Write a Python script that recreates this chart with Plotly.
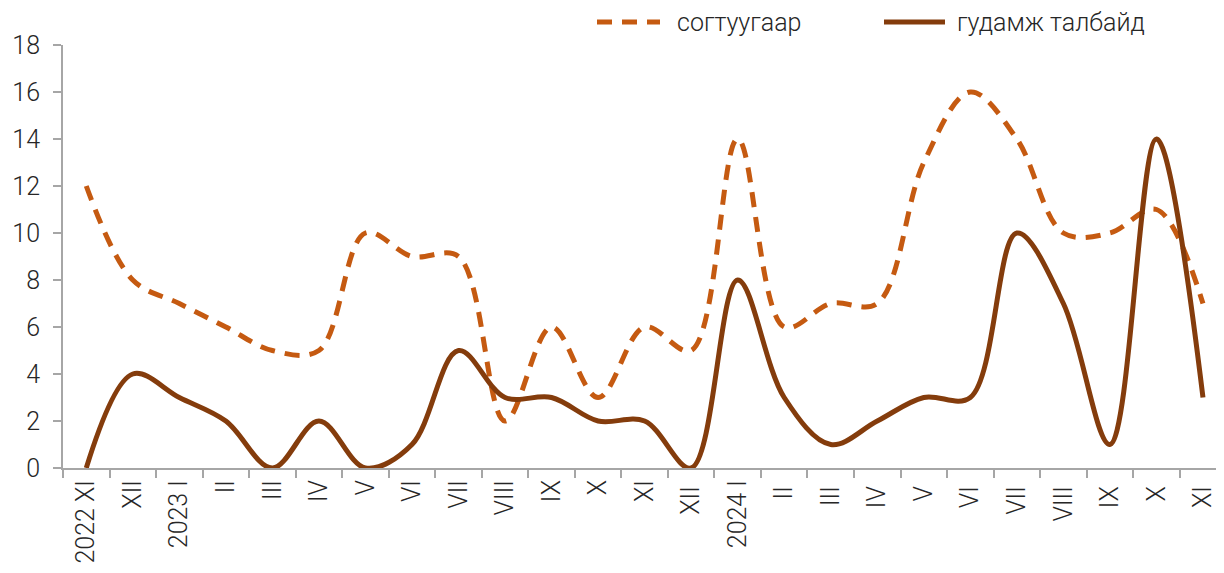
import plotly.graph_objects as go

categories = ["2022 XI", "XII", "2023 I", "II", "III", "IV", "V", "VI", "VII", "VIII", "IX", "X", "XI",
              "XII ", "2024 I", "II ", "III ", "IV ", "V ", "VI ", "VII ", "VIII ", "IX ", "X ", "XI "]
sogtuugaar = [12, 8, 7, 6, 5, 5, 10, 9, 9, 2, 6, 3, 6, 5, 14, 6, 7, 7, 13, 16, 14, 10, 10, 11, 7]
gudamzh = [0, 4, 3, 2, 0, 2, 0, 1, 5, 3, 3, 2, 2, 0, 8, 3, 1, 2, 3, 3, 10, 7, 1, 14, 3]
y_ticks = [0, 2, 4, 6, 8, 10, 12, 14, 16, 18]
series_names = ["согтуугаар", "гудамж талбайд"]
series_colors = ["#C55A11", "#843C0C"]
DASH = "15px,10px"

FONT = "Roboto"
TXT = "#262626"
AX = "#A6A6A6"
FS = 25
FSX = 25

# page has 8px body margin; plot area spans 63..1216 px (screen), 45..468 px
L, R, T, B = 63, 1216, 45, 468
W, H = 1208, 557


def px(x):
    return (x - L) / (R - L)


def py(y):
    return (B - y) / (B - T)


fig = go.Figure()
fig.add_trace(go.Scatter(
    x=categories, y=sogtuugaar, name=series_names[0], mode="lines",
    line=dict(color=series_colors[0], width=5, dash=DASH, shape="spline", smoothing=1.0),
))
fig.add_trace(go.Scatter(
    x=categories, y=gudamzh, name=series_names[1], mode="lines",
    line=dict(color=series_colors[1], width=5, shape="spline", smoothing=1.0),
))

# custom legend (long line samples as in the reference)
legend_items = [(597, 660, 675), (884, 945, 955)]
shapes, annotations = [], []
for i, (x0, x1, xt) in enumerate(legend_items):
    shapes.append(dict(
        type="line", xref="paper", yref="paper",
        x0=px(x0), x1=px(x1), y0=py(22), y1=py(22),
        line=dict(color=series_colors[i], width=5, dash=DASH if i == 0 else "solid"),
    ))
    annotations.append(dict(
        xref="paper", yref="paper", x=px(xt), y=py(22), xanchor="left", yanchor="middle",
        text=series_names[i], showarrow=False,
        font=dict(family=FONT, size=FS, color=TXT, weight=300),
    ))

fig.update_layout(
    width=W, height=H,
    margin=dict(l=L - 8, r=W + 8 - R, t=T - 8, b=H + 8 - B),
    paper_bgcolor="white", plot_bgcolor="white",
    font=dict(family=FONT, size=FS, color=TXT, weight=300),
    showlegend=False,
    shapes=shapes, annotations=annotations,
)
fig.update_xaxes(
    type="category", categoryorder="array", categoryarray=categories,
    range=[-0.5, 24.28],
    showgrid=False, showline=True, linecolor=AX, linewidth=2,
    ticks="outside", tickson="boundaries", ticklen=8, tickcolor=AX, tickwidth=2,
    tickangle=-90, tickfont=dict(family=FONT, size=FSX, color=TXT, weight=300),
    zeroline=False, automargin=False,
)
fig.update_yaxes(
    range=[0, 18], tickvals=y_ticks,
    showgrid=False, showline=True, linecolor=AX, linewidth=2,
    ticks="outside", ticklen=8, tickcolor=AX, tickwidth=2, ticklabelstandoff=8,
    tickfont=dict(family=FONT, size=FS, color=TXT, weight=300),
    zeroline=False, automargin=False,
)

fig.write_html("out.html")
